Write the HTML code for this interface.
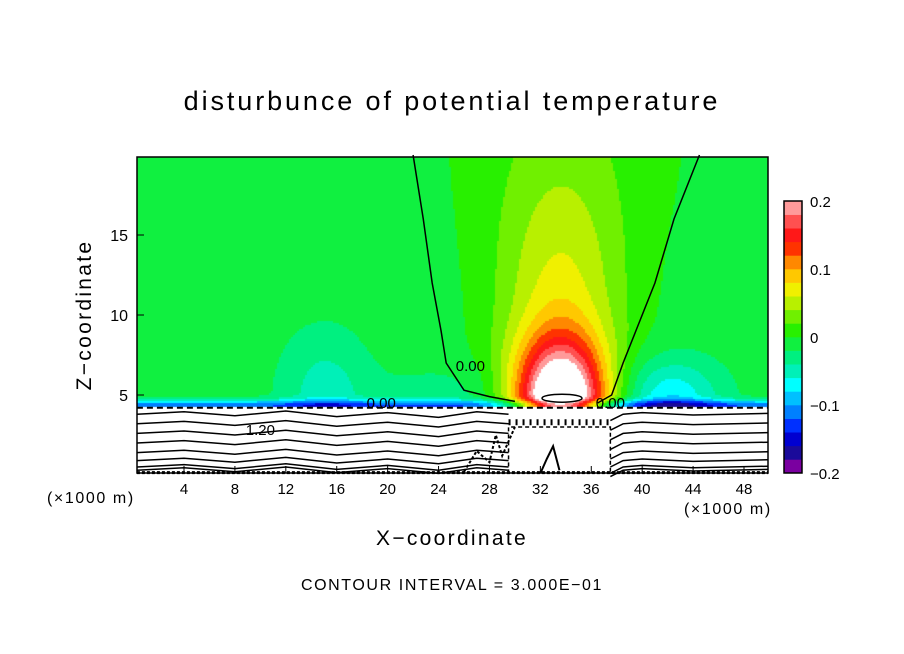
<!DOCTYPE html>
<html><head><meta charset="utf-8"><style>
body{margin:0;background:#fff;}
#w{position:relative;width:904px;height:654px;background:#fff;font-family:"Liberation Sans",sans-serif;color:#000;overflow:hidden}
.t{position:absolute;white-space:nowrap}
</style></head><body>
<div id="w">
<div class="t" style="left:0;width:904px;text-align:center;top:86px;font-size:27px;letter-spacing:2.9px">disturbunce of potential temperature</div>
<canvas id="cv" width="631" height="316" style="position:absolute;left:137px;top:157px"></canvas>
<svg id="sv" width="904" height="654" style="position:absolute;left:0;top:0"></svg>
<div class="t" style="left:47px;top:490px;font-size:16px;letter-spacing:1.6px">(×1000 m)</div>
<div class="t" style="left:684px;top:501px;font-size:16px;letter-spacing:1.6px">(×1000 m)</div>
<div class="t" style="left:0;width:904px;text-align:center;top:527px;font-size:21px;letter-spacing:2.3px">X−coordinate</div>
<div class="t" style="left:85px;top:315px;font-size:21px;letter-spacing:2.3px;transform:translate(-50%,-50%) rotate(-90deg)">Z−coordinate</div>
<div class="t" style="left:0;width:904px;text-align:center;top:577px;font-size:16px;letter-spacing:1.6px">CONTOUR INTERVAL = 3.000E−01</div>
</div>
<script>
const levelColors=["#7a00a0","#1a0a9a","#0000d0","#0030ff","#0080ff","#00c0ff","#00ffff","#00f0b8","#00f080","#10f040","#28f000","#70f000","#b8f000","#f0f000","#ffc800","#ff8800","#ff3300","#ff1818","#ff5050","#ff9a9a"];
const colorbarTicks=[0.2,0.1,0,-0.1,-0.2];
const xTicks=[4,8,12,16,20,24,28,32,36,40,44,48];
const zTicks=[5,10,15];
const baseValue=-0.01;
const bumpX=[33.5,33.5,34,15,42,25];
const bumpZ=[4.3,10,22,5,4.8,5];
const bumpAmp=[0.26,0.07,0.022,-0.04,-0.07,-0.02];
const bumpSx=[3.5,5,10,3.5,4,6];
const bumpSz=[4,9,10,4,2.5,2];
const surfaceZ=4.4;
const surfaceAmp=-0.1;
const zeroLeftX=[22,22.8,23.5,24.2,24.6,26,28,30];
const zeroLeftZ=[20,16,12,9,7,5.3,4.9,4.6];
const zeroRightX=[44.5,42.5,41,39.5,38.5,37.6,36.5];
const zeroRightZ=[20,16,12,9,7,5,4.5];
const lowLinesZ=[3.8,3.2,2.6,2.0,1.4,0.9,0.5,0.3];
const W=631,H=316,L=137,T=157;
const X=v=>184+(v-4)*560/44;
const Z=v=>475-v*16;
function field(x,z){
  let s=baseValue;
  for(let i=0;i<bumpX.length;i++){
    const dx=(x-bumpX[i])/bumpSx[i],dz=(z-bumpZ[i])/bumpSz[i];
    s+=bumpAmp[i]*Math.exp(-dx*dx-dz*dz);
  }
  const dz=(z-surfaceZ)/0.35;
  s+=surfaceAmp*Math.exp(-dz*dz);
  return s;
}
const cv=document.getElementById('cv'),ctx=cv.getContext('2d');
ctx.fillStyle='#fff';ctx.fillRect(0,0,W,H);
for(let py=0;py<H;py+=2){for(let px=0;px<W;px+=2){
  const x=(px+L-184)*44/560+4,z=(475-(py+T))/16;
  if(z<surfaceZ-0.1)continue;
  let v=field(x,z);
  if(v>=0.2)continue;
  let k=Math.floor((v+0.2)/0.02);k=Math.max(0,Math.min(19,k));
  ctx.fillStyle=levelColors[k];ctx.fillRect(px,py,2,2);
}}
const NS='http://www.w3.org/2000/svg',sv=document.getElementById('sv');
function el(t,a,p){const e=document.createElementNS(NS,t);for(const k in a)e.setAttribute(k,a[k]);(p||sv).appendChild(e);return e;}
function poly(xs,zs,name,dash,w){
  const e=el('polyline',{points:xs.map((x,i)=>X(x)+','+Z(zs[i])).join(' '),fill:'none',stroke:'#000','stroke-width':w||1.5,'stroke-dasharray':dash||'none'});
  
  
}
poly(zeroLeftX,zeroLeftZ,'zero-contour-left');
poly(zeroRightX,zeroRightZ,'zero-contour-right');
lowLinesZ.forEach((z,i)=>{
  const xs=[0.3,4,8,12,16,20,24,27,29.5],zs=[z,z+0.15,z-0.1,z+0.2,z-0.15,z+0.1,z-0.2,z+0.15,z];
  poly(xs,zs,'low-contour-left');
  const xs2=[37.5,38.5,40,44,49.9],zs2=[z-0.4,z,z+0.1,z-0.05,z+0.05];
  poly(xs2,zs2,'low-contour-right');
});
poly([0.3,49.9],[surfaceZ-0.2,surfaceZ-0.2],'surface-dashed-contour','6,4',2);
poly([29.5,37.5],[3.3,3.3],'box-top-contour','2,5',6);
poly([29.5,29.5,37.5,37.5],[0.1,3,3,0.1],'box-contour','4,3');
poly([26,27,28,28.5,29,30],[0.2,1.5,0.8,2.5,1.2,3],'clutter-contour','3,2',2);
poly([0.3,49.9],[0.15,0.15],'ground-contour','3,2',3);
poly([32,32.5,33,33.2,33.5],[0.1,1,1.8,1.2,0.3],'box-inner-contour','none',2);
const el1=el('ellipse',{cx:X(33.7),cy:Z(4.8),rx:20,ry:4,fill:'none',stroke:'#000','stroke-width':1.5});


[['1.20',10,2.5],['0.00',26.5,6.5],['0.00',37.5,4.2],['0.00',19.5,4.2]].forEach(([s,x,z])=>{
  const e=el('text',{x:X(x),y:Z(z),'font-size':15,'font-family':'Liberation Sans, sans-serif','text-anchor':'middle'});
  e.textContent=s;
  
  
});
const fr=el('rect',{x:137,y:157,width:631,height:316,fill:'none',stroke:'#000','stroke-width':1.5});


xTicks.forEach(v=>{
  const tk=el('line',{x1:X(v),x2:X(v),y1:473,y2:466,stroke:'#000'});
  
  
  const t=el('text',{x:X(v),y:494,'font-size':15,'font-family':'Liberation Sans, sans-serif','text-anchor':'middle'});
  t.textContent=v;
  
  
});
zTicks.forEach(v=>{
  const tk=el('line',{x1:137,x2:144,y1:Z(v),y2:Z(v),stroke:'#000'});
  
  
  const t=el('text',{x:128,y:Z(v)+6,'font-size':16,'font-family':'Liberation Sans, sans-serif','text-anchor':'end'});
  t.textContent=v;
  
  
});
const cbTop=201,cbBot=473,cbH=(cbBot-cbTop)/levelColors.length;
levelColors.forEach((c,i)=>{
  const r=el('rect',{x:784,y:cbBot-(i+1)*cbH,width:18,height:cbH+0.3,fill:c});
  
  
});
const cbf=el('rect',{x:784,y:cbTop,width:18,height:cbBot-cbTop,fill:'none',stroke:'#000','stroke-width':1.5});


colorbarTicks.forEach(v=>{
  const t=el('text',{x:810,y:cbBot-(v+0.2)/0.4*(cbBot-cbTop)+6,'font-size':15,'font-family':'Liberation Sans, sans-serif'});
  t.textContent=v===0?'0':String(v).replace('-','−');
  
  
});
</script>
</body></html>
